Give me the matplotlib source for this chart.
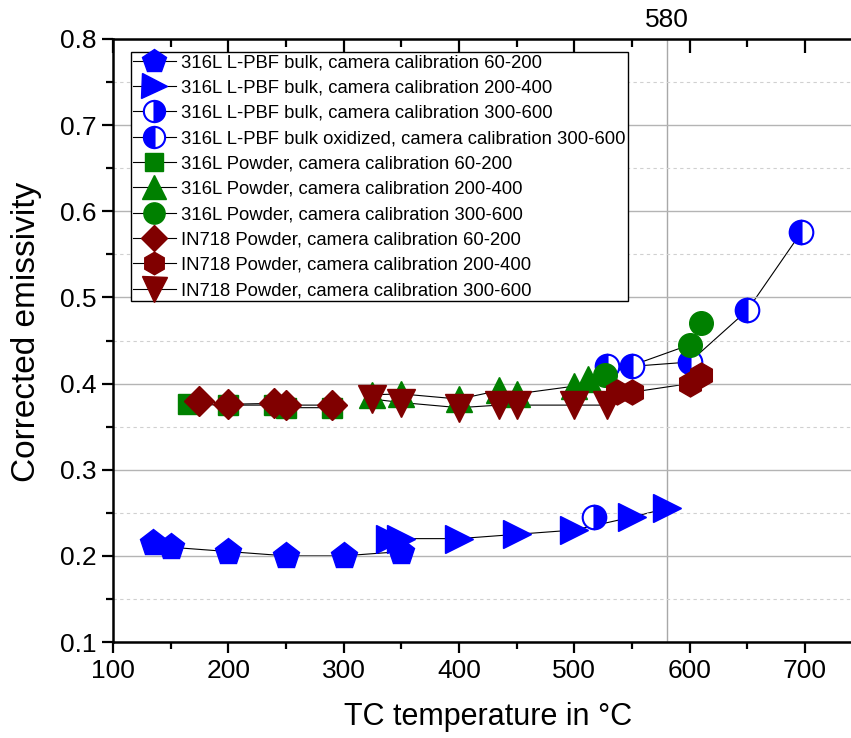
import matplotlib
matplotlib.use("Agg")
import matplotlib.pyplot as plt
from matplotlib.ticker import MultipleLocator, FormatStrFormatter

plt.rcParams['font.family'] = ['Liberation Sans', 'DejaVu Sans']
TICK_SIZE = 19

# ---------------- data ----------------
bulk60_x = [135, 150, 200, 250, 300, 350]
bulk60_y = [0.215, 0.210, 0.205, 0.200, 0.200, 0.205]

bulk200_x = [340, 350, 400, 450, 500, 550, 580]
bulk200_y = [0.220, 0.220, 0.220, 0.225, 0.230, 0.245, 0.255]

bulk300_x = [517]
bulk300_y = [0.245]

bulkox_x = [528, 550, 600, 650, 697]
bulkox_y = [0.420, 0.420, 0.425, 0.485, 0.576]

pow60_x = [165, 200, 240, 250, 290]
pow60_y = [0.376, 0.375, 0.375, 0.372, 0.372]

pow200_x = [325, 350, 400, 435, 450, 500, 512]
pow200_y = [0.387, 0.388, 0.382, 0.392, 0.388, 0.397, 0.405]

pow300_x = [527, 600, 610]
pow300_y = [0.410, 0.445, 0.470]

in60_x = [175, 200, 240, 250, 290]
in60_y = [0.380, 0.376, 0.377, 0.375, 0.375]

in200_x = [537, 550, 600, 610]
in200_y = [0.390, 0.390, 0.400, 0.410]

in300_x = [325, 350, 400, 435, 450, 500, 528]
in300_y = [0.382, 0.378, 0.372, 0.375, 0.375, 0.375, 0.375]

labels = [
    "316L L-PBF bulk, camera calibration 60-200",
    "316L L-PBF bulk, camera calibration 200-400",
    "316L L-PBF bulk, camera calibration 300-600",
    "316L L-PBF bulk oxidized, camera calibration 300-600",
    "316L Powder, camera calibration 60-200",
    "316L Powder, camera calibration 200-400",
    "316L Powder, camera calibration 300-600",
    "IN718 Powder, camera calibration 60-200",
    "IN718 Powder, camera calibration 200-400",
    "IN718 Powder, camera calibration 300-600",
]

BLUE = "#0000FF"
GREEN = "#008000"
RED = "#800000"

XMIN, XMAX = 100, 750
fig = plt.figure(figsize=(8.51, 7.38), dpi=100)
pos = [113/851, (738-642)/738, (862.6-113)/851, 603/738]
ax = fig.add_axes(pos)

ax.set_xlim(XMIN, XMAX)
ax.set_ylim(0.1, 0.8)

ax.yaxis.set_major_locator(MultipleLocator(0.1))
ax.yaxis.set_minor_locator(MultipleLocator(0.05))
ax.xaxis.set_major_locator(MultipleLocator(100))
ax.xaxis.set_minor_locator(MultipleLocator(50))
ax.grid(axis='y', which='major', color='#b4b4b4', lw=1.0, ls='-', zorder=0)
ax.grid(axis='y', which='minor', color='#d0d0d0', lw=0.8, ls=(0, (3, 3)), zorder=0)
ax.grid(axis='x', which='both', visible=False)
ax.axvline(580, color='#a8a8a8', lw=1.0, zorder=0.5)

series = [
    (bulk60_x, bulk60_y, dict(marker='p', ms=20, mfc=BLUE, mec=BLUE)),
    (bulk200_x, bulk200_y, dict(marker='>', ms=20, mfc=BLUE, mec=BLUE)),
    (bulk300_x, bulk300_y, dict(marker='o', ms=17, mfc=BLUE, mec=BLUE, mew=1.5,
                                fillstyle='right', markerfacecoloralt='white')),
    (bulkox_x, bulkox_y, dict(marker='o', ms=17, mfc=BLUE, mec=BLUE, mew=1.5,
                              fillstyle='left', markerfacecoloralt='white')),
    (pow60_x, pow60_y, dict(marker='s', ms=14, mfc=GREEN, mec=GREEN)),
    (pow200_x, pow200_y, dict(marker='^', ms=19, mfc=GREEN, mec=GREEN)),
    (pow300_x, pow300_y, dict(marker='o', ms=17, mfc=GREEN, mec=GREEN)),
    (in60_x, in60_y, dict(marker='D', ms=15, mfc=RED, mec=RED)),
    (in200_x, in200_y, dict(marker='h', ms=18, mfc=RED, mec=RED)),
    (in300_x, in300_y, dict(marker='v', ms=20, mfc=RED, mec=RED)),
]

handles = []
for i, (x, y, mk) in enumerate(series):
    ax.plot(x, y, ls='-', color='black', lw=0.8, zorder=1)
    ax.plot(x, y, ls='none', zorder=2 + i * 0.01, **mk)
    lh, = ax.plot([], [], ls='-', color='black', lw=0.8, **mk)
    handles.append(lh)

for s in ['left', 'bottom']:
    ax.spines[s].set_linewidth(1.8)
ax.spines['right'].set_visible(False)
ax.spines['top'].set_visible(False)

ax.tick_params(axis='both', which='major', direction='out', length=8, width=1.6,
               labelsize=TICK_SIZE, pad=4)
ax.tick_params(axis='both', which='minor', direction='out', length=5, width=1.6)
ax.tick_params(axis='y', right=False, which='both')
ax.tick_params(axis='x', top=False, which='both')
ax.yaxis.set_major_formatter(FormatStrFormatter('%.1f'))

# top axis with inward ticks
top = ax.twiny()
top.set_xlim(XMIN, XMAX)
top.xaxis.set_major_locator(MultipleLocator(100))
top.xaxis.set_minor_locator(MultipleLocator(50))
top.tick_params(axis='x', which='major', direction='in', length=10, width=1.6,
                top=True, bottom=False, labeltop=False, labelbottom=False)
top.tick_params(axis='x', which='minor', direction='in', length=6, width=1.6,
                top=True, bottom=False)
top.tick_params(axis='y', left=False, right=False, labelleft=False, labelright=False)
for s in ['left', 'right', 'bottom']:
    top.spines[s].set_visible(False)
top.spines['top'].set_linewidth(1.8)
top.patch.set_visible(False)

ax.text(580, 1.012, "580", transform=ax.get_xaxis_transform(), ha='center',
        va='bottom', fontsize=TICK_SIZE)

ax.set_xlabel("TC temperature in °C", fontsize=22, labelpad=14)
ax.set_ylabel("Corrected emissivity", fontsize=24)
ax.yaxis.set_label_coords(-0.095, 0.515)

leg = top.legend(handles, labels, loc='upper left',
                 bbox_to_anchor=(131/851, 1 - 52/738), bbox_transform=fig.transFigure,
                 fontsize=13.3, frameon=True, fancybox=False, edgecolor='black',
                 framealpha=1, borderaxespad=0, borderpad=0.12, labelspacing=0.45,
                 handlelength=2.3, handletextpad=0.3, markerscale=0.9)
leg.get_frame().set_linewidth(1.0)
leg.set_zorder(5)

fig.savefig("out.png", dpi=100)
